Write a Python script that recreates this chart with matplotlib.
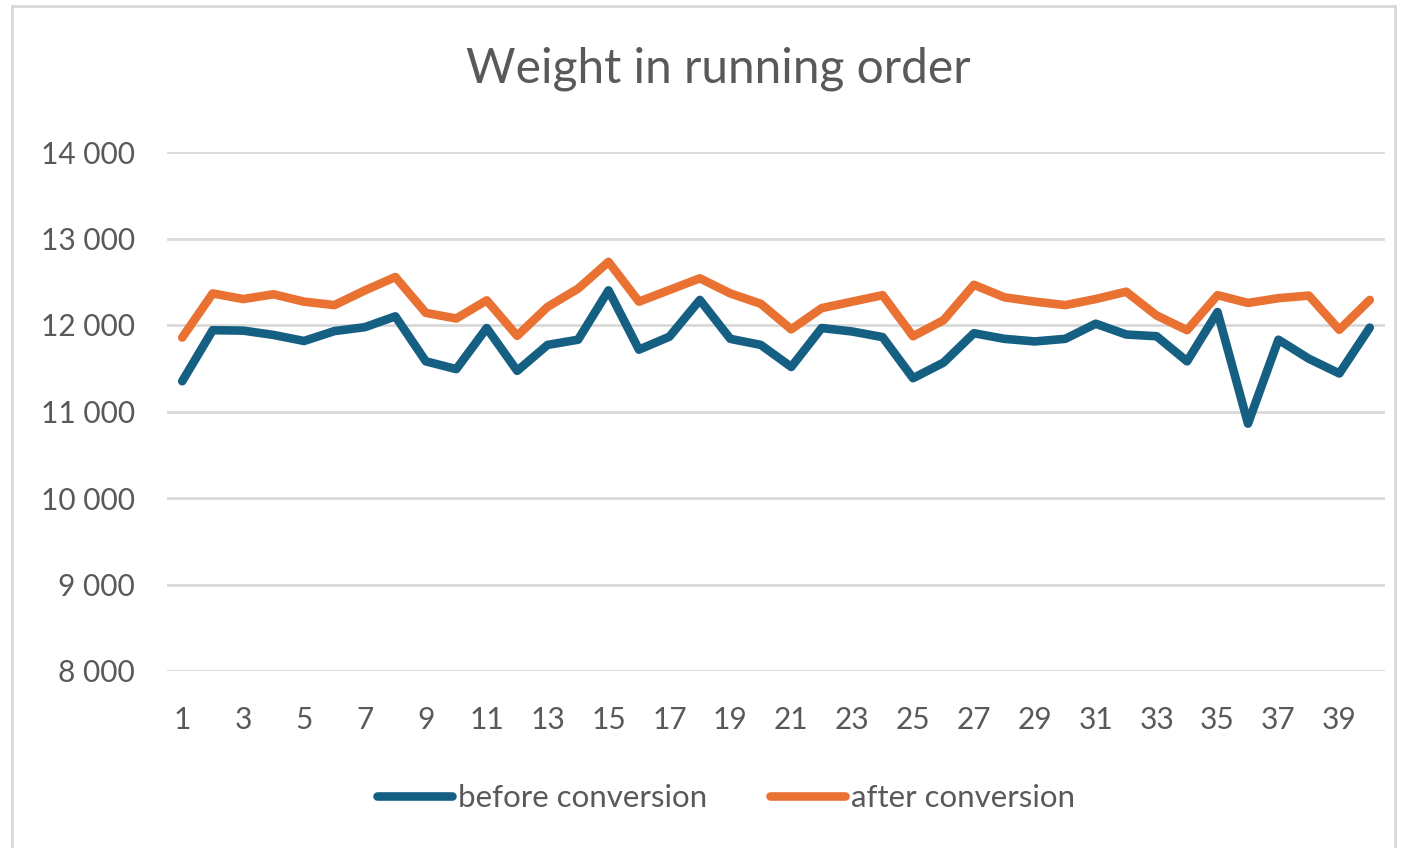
import numpy as np
import matplotlib
matplotlib.use("Agg")
import matplotlib.pyplot as plt
from matplotlib.patches import Rectangle
from matplotlib.ticker import FuncFormatter, MultipleLocator

# running order positions and weights
positions = list(range(1, 41))
before = [11350, 11940, 11935, 11885, 11815, 11930, 11975, 12100, 11580, 11490,
          11965, 11470, 11770, 11830, 12400, 11715, 11865, 12290, 11840, 11770,
          11515, 11965, 11925, 11860, 11385, 11565, 11905, 11840, 11810, 11840,
          12015, 11890, 11870, 11580, 12150, 10860, 11830, 11610, 11440, 11970]
after = [11855, 12365, 12300, 12355, 12270, 12230, 12400, 12555, 12140, 12075,
         12285, 11875, 12210, 12420, 12730, 12270, 12405, 12540, 12365, 12245,
         11950, 12195, 12270, 12345, 11870, 12055, 12465, 12320, 12270, 12230,
         12300, 12385, 12110, 11940, 12345, 12255, 12310, 12340, 11945, 12290]
series_names = ["before conversion", "after conversion"]
x_tick_labels = [str(i) for i in range(1, 41, 2)]

plt.rcParams['font.family'] = ['Lato', 'DejaVu Sans']
txt = "#595959"

fig = plt.figure(figsize=(14.06, 8.48), dpi=100)
fig.patches.append(Rectangle((12 / 1406, -0.05), (1395 - 12) / 1406, 1.05 - 6 / 848,
                             transform=fig.transFigure, fill=False,
                             edgecolor="#d9d9d9", linewidth=2))

ax = fig.add_axes([167 / 1406, 1 - 671 / 848, (1385 - 167) / 1406, (671 - 152) / 848])
ax.plot(positions, before, color="#156082", linewidth=6.2, label=series_names[0],
        solid_joinstyle="round", solid_capstyle="round", zorder=3)
ax.plot(positions, after, color="#E97132", linewidth=6.2, label=series_names[1],
        solid_joinstyle="round", solid_capstyle="round", zorder=3)

ax.set_xlim(0.5, 40.5)
ax.set_ylim(8000, 14000)
ax.yaxis.set_major_locator(MultipleLocator(1000))
ax.yaxis.set_major_formatter(FuncFormatter(lambda v, p: f"{int(v):,}".replace(",", " ")))
ax.set_xticks(range(1, 41, 2))
ax.set_xticklabels(x_tick_labels)
ax.grid(axis="y", color="#d9d9d9", linewidth=2)
ax.set_axisbelow(True)
for s in ax.spines.values():
    s.set_visible(False)
ax.tick_params(length=0, labelsize=21.5, labelcolor=txt)
ax.tick_params(axis="x", pad=25)
ax.tick_params(axis="y", pad=23)

fig.text(718 / 1406, 1 - 69 / 848, "Weight in running order", ha="center", va="center",
         fontsize=34.5, color=txt)

ax.legend(loc="center", bbox_to_anchor=((726 - 167) / 1218, (671 - 798) / (671 - 152)),
          ncol=2, frameon=False, fontsize=22.5, labelcolor=txt,
          handlelength=2.4, handletextpad=0.2, columnspacing=2.0)

fig.savefig("out.png", dpi=100)
